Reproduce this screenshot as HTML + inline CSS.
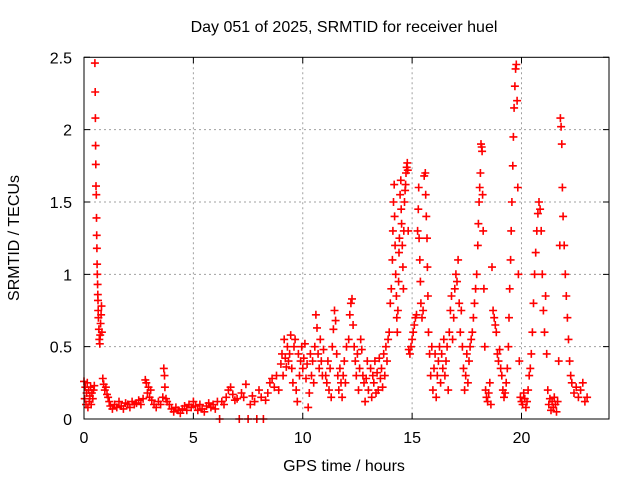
<!DOCTYPE html>
<html><head><meta charset="utf-8"><style>
body{margin:0;background:#fff}
svg{display:block;font-family:"Liberation Sans",sans-serif}
</style></head><body>
<svg id="chart" width="640" height="480" viewBox="0 0 640 480" xmlns="http://www.w3.org/2000/svg">
<rect width="640" height="480" fill="#fff"/>
<text x="344" y="32" font-size="16" text-anchor="middle" fill="#000">Day 051 of 2025, SRMTID for receiver huel</text>
<text transform="translate(19,238) rotate(-90)" font-size="16" text-anchor="middle" fill="#000">SRMTID / TECUs</text>
<text x="344" y="471" font-size="16" text-anchor="middle" fill="#000">GPS time / hours</text>
<g id="grid"></g>
<g id="ticks"></g>
<g id="points"></g>
<rect x="84" y="57.3" width="525" height="361.7" fill="none" stroke="#000" stroke-width="1"/>
</svg>
<script>
const xTicks=[0,5,10,15,20];
const yTicks=[0,0.5,1,1.5,2,2.5];
const yTickLabels=["0","0.5","1","1.5","2","2.5"];
const times=[
0,0.03,0.06,0.09,0.12,0.15,0.18,0.21,0.24,0.27,0.3,0.33,0.36,0.4,0.44,0.47,
0.5,0.51,0.52,0.53,0.54,0.55,0.56,0.57,0.58,0.59,0.6,0.61,0.62,0.63,0.64,0.65,0.66,0.68,0.7,0.72,0.74,0.76,0.78,0.8,0.82,
0.86,0.9,0.95,1.0,1.05,1.1,1.15,1.2,1.3,1.4,1.5,1.6,1.7,1.8,1.9,2.0,2.1,2.2,2.3,2.4,2.5,2.6,2.7,
2.8,2.85,2.9,2.95,3.0,3.05,3.1,3.2,3.3,3.4,3.5,3.6,3.65,3.68,3.7,3.75,3.8,3.9,4.0,4.1,4.2,4.3,4.4,4.5,4.6,4.7,4.8,4.9,5.0,5.1,5.2,5.3,5.4,5.5,5.6,5.7,5.8,5.9,6.0,6.1,
6.2,6.3,6.4,6.5,6.6,6.7,6.8,6.9,7.0,7.1,7.2,7.3,7.4,7.5,7.6,7.7,7.8,7.9,8.0,8.1,8.2,8.3,8.4,8.5,8.6,8.7,8.8,8.9,
9.0,9.05,9.1,9.15,9.2,9.25,9.3,9.35,9.4,9.45,9.5,9.55,9.6,9.65,9.7,9.75,9.8,9.85,9.9,9.95,10.0,10.05,10.1,10.15,10.2,10.25,10.3,10.35,10.4,10.45,10.5,10.55,10.6,10.65,10.7,10.75,10.8,10.85,10.9,10.95,
11.05,11.1,11.15,11.2,11.25,11.3,11.35,11.4,11.45,11.5,11.55,11.6,11.65,11.7,11.75,11.8,11.85,11.9,11.95,12.0,
12.1,12.15,12.2,12.25,12.3,12.35,12.4,12.45,12.5,12.55,12.6,12.65,12.7,12.75,12.8,12.85,12.9,12.95,13.0,
13.1,13.15,13.2,13.25,13.3,13.35,13.4,13.45,13.5,13.55,13.6,13.65,13.7,13.75,13.8,13.85,13.9,
13.95,14.0,14.05,14.1,14.12,14.15,14.18,14.2,14.22,14.25,14.28,14.3,14.32,14.35,14.38,14.4,14.42,14.45,14.48,14.5,14.52,14.55,14.58,14.6,14.62,14.65,14.68,14.7,14.72,14.75,14.78,14.8,14.82,
14.85,14.9,14.95,15.0,15.05,15.1,15.15,15.2,15.25,15.28,15.3,15.32,15.35,15.38,15.4,15.45,15.5,15.55,15.6,15.62,15.65,15.68,15.7,15.72,15.75,15.8,
15.85,15.9,15.95,16.0,16.05,16.1,16.15,16.2,16.25,16.3,16.35,16.4,16.45,16.5,16.55,16.6,16.65,16.7,16.75,16.8,16.85,16.9,16.95,17.0,17.05,17.1,17.15,17.2,17.25,17.3,17.35,17.4,17.45,17.5,
17.55,17.6,17.65,17.7,17.75,17.8,17.85,17.9,17.95,18.0,18.03,18.06,18.09,18.12,18.15,18.18,18.2,18.22,18.25,18.28,
18.32,18.36,18.4,18.45,18.5,18.55,18.6,18.65,18.7,18.75,18.8,18.85,18.9,18.95,19.0,19.05,19.1,19.15,19.2,19.25,19.3,
19.35,19.4,19.43,19.46,19.5,19.53,19.56,19.6,19.63,19.66,19.7,19.73,19.76,19.8,19.83,19.86,19.9,19.95,20.0,20.05,20.1,20.15,20.2,20.25,20.3,
20.35,20.4,20.45,20.5,20.55,20.6,20.65,20.7,20.75,20.8,20.85,20.9,20.95,21.0,21.05,21.1,21.15,21.2,
21.25,21.3,21.35,21.4,21.45,21.5,21.55,21.6,21.65,21.7,21.75,21.78,21.81,21.84,21.87,21.9,21.95,22.0,22.05,22.1,22.15,22.2,22.25,22.3,22.4,22.5,22.6,22.7,22.8,22.9,23.0
];
const values=[
.26,.14,.22,.1,.18,.25,.08,.2,.12,.16,.22,.1,.18,.14,.2,.23,
2.46,2.26,2.08,1.89,1.76,1.61,1.55,1.39,1.27,1.18,1.07,1.0,.93,.86,.82,.75,.7,.62,.55,.52,.58,.66,.72,.78,.6,
.28,.24,.2,.22,.17,.15,.12,.09,.07,.1,.08,.12,.09,.07,.11,.1,.08,.12,.1,.11,.13,.1,.14,
.27,.25,.18,.22,.15,.2,.13,.1,.08,.12,.1,.15,.35,.3,.22,.14,.12,.1,.07,.05,.08,.06,.04,.07,.09,.06,.1,.08,.12,.09,.06,.1,.07,.05,.09,.11,.08,.1,.07,.12,
0,.12,.1,.15,.2,.22,.17,.13,.14,0,.18,.15,.24,0,.1,.16,.12,0,.2,.15,0,.13,.18,.25,.28,.22,.3,.2,
.38,.45,.3,.55,.42,.36,.5,.4,.45,.58,.35,.25,.5,.55,.2,.12,.45,.3,.4,.5,.35,.42,.52,.28,.38,.08,.18,.45,.3,.4,.25,.5,.72,.63,.45,.35,.55,.4,.3,.48,
.3,.25,.4,.2,.35,.15,.5,.62,.75,.68,.45,.3,.2,.35,.25,.15,.3,.4,.25,.5,
.55,.72,.8,.83,.65,.5,.4,.3,.45,.2,.35,.55,.48,.3,.25,.12,.28,.4,.2,
.35,.15,.3,.25,.4,.18,.32,.2,.42,.28,.35,.22,.45,.3,.5,.4,.55,
.6,.8,.9,1.1,1.3,1.5,1.62,1.4,1.2,1.0,.85,.7,.6,.75,.95,1.15,1.25,1.55,1.65,1.45,1.35,1.2,1.05,.9,1.3,1.5,1.58,1.62,1.7,1.74,1.77,1.72,1.3,
.48,.45,.5,.55,.6,.65,.7,.72,1.3,1.45,1.6,1.25,1.1,.95,.8,.7,.75,1.68,1.7,1.55,1.4,1.25,1.05,.85,.6,.45,
.3,.5,.2,.35,.45,.15,.3,.4,.5,.25,.45,.35,.55,.3,.4,.5,.2,.6,.75,.85,.55,.7,.9,1.0,.95,1.1,.8,.6,.75,.5,.35,.2,.3,.45,
.25,.4,.5,.55,.6,.7,.8,.9,1.0,1.2,1.35,1.5,1.6,1.7,1.9,1.88,1.85,1.55,1.3,.9,
.5,.2,.15,.12,.18,.25,.1,1.05,.75,.7,.65,.6,.45,.4,.48,.35,.3,.2,.15,.18,.25,
.35,.5,.7,.9,1.1,1.3,1.5,1.75,1.95,2.15,2.3,2.42,2.45,2.2,1.6,1.0,.4,.15,.12,.1,.18,.14,.08,.12,.2,
.3,.35,.45,.6,.8,1.0,1.15,1.3,1.42,1.5,1.45,1.3,1.0,.75,.6,.85,.45,.2,
.1,.14,.06,.12,.08,.15,.1,.05,.12,.4,1.2,2.08,2.02,1.9,1.6,1.4,1.2,1.0,.85,.7,.55,.4,.3,.25,.18,.22,.15,.2,.25,.12,.15
];
const X0=84,X1=609,Y0=419,Y1=57.3,XMAX=24,YMAX=2.5;
const xs=t=>X0+(X1-X0)*t/XMAX;
const ys=v=>Y0-(Y0-Y1)*v/YMAX;
const NS="http://www.w3.org/2000/svg";
function mk(tag,attrs,parent){const e=document.createElementNS(NS,tag);for(const k in attrs)e.setAttribute(k,attrs[k]);parent.appendChild(e);return e;}
const grid=document.getElementById('grid'),ticks=document.getElementById('ticks'),pts=document.getElementById('points');
xTicks.forEach(t=>{
  const x=xs(t);
  if(t>0){const g=mk('line',{x1:x,y1:Y1,x2:x,y2:Y0,stroke:'#a0a0a0','stroke-dasharray':'2,3'},grid);
  
  }
  const a=mk('path',{d:`M${x},${Y0}v-6M${x},${Y1}v6`,stroke:'#000'},ticks);
  
  
  const l=mk('text',{x:x,y:Y0+24,'font-size':16,'text-anchor':'middle',fill:'#000'},ticks);
  l.textContent=String(t);
  
  
});
yTicks.forEach((v,i)=>{
  const y=ys(v);
  if(v>0&&v<YMAX){const g=mk('line',{x1:X0,y1:y,x2:X1,y2:y,stroke:'#a0a0a0','stroke-dasharray':'2,3'},grid);
  
  }
  const a=mk('path',{d:`M${X0},${y}h6M${X1},${y}h-6`,stroke:'#000'},ticks);
  
  
  const l=mk('text',{x:X0-12,y:y+6,'font-size':16,'text-anchor':'end',fill:'#000'},ticks);
  l.textContent=yTickLabels[i];
  
  
});
let d='';
const n=Math.min(times.length,values.length);
for(let i=0;i<n;i++){const x=xs(times[i]),y=ys(values[i]);d+=`M${(x-4).toFixed(1)},${y.toFixed(1)}h8M${x.toFixed(1)},${(y-4).toFixed(1)}v8`;}
const p=mk('path',{d:d,stroke:'#ff0000','stroke-width':1.6,fill:'none'},pts);


</script>
</body></html>
